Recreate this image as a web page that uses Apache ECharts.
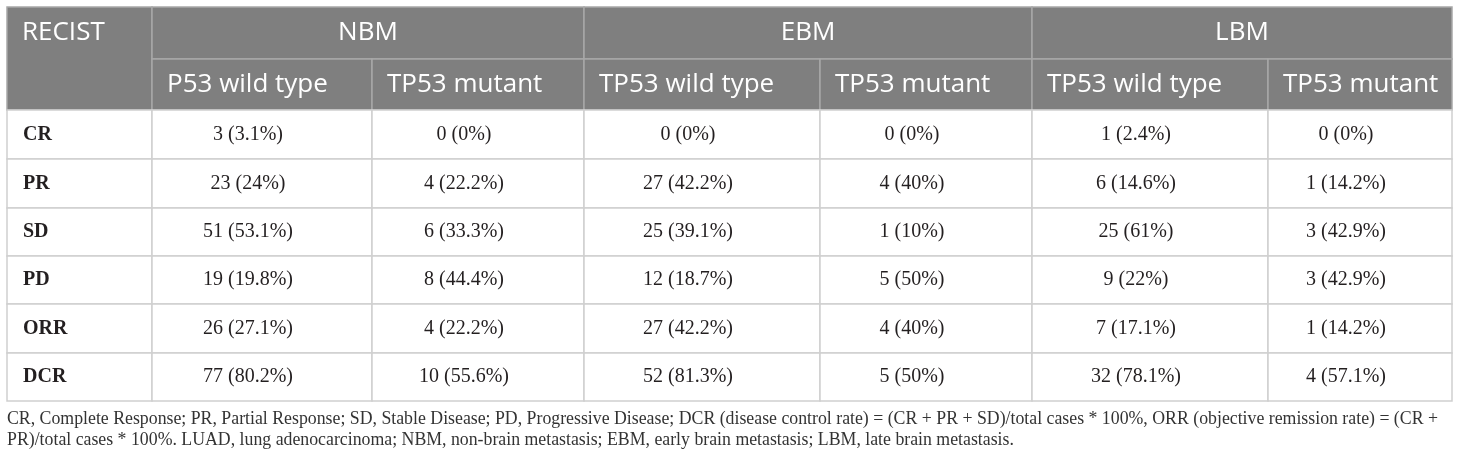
<!DOCTYPE html>
<html>
<head>
<meta charset="utf-8">
<script src="https://cdn.jsdelivr.net/npm/echarts@6/dist/echarts.min.js"></script>
<style>
  html, body { margin: 0; padding: 0; background: #fff; }
  #table { width: 1460px; height: 463px; }
</style>
</head>
<body>
<div id="table"></div>
<script>
// table content
var recist = ['CR', 'PR', 'SD', 'PD', 'ORR', 'DCR'];
var groups = ['NBM', 'EBM', 'LBM'];
var subHeaders = ['P53 wild type', 'TP53 mutant', 'TP53 wild type', 'TP53 mutant', 'TP53 wild type', 'TP53 mutant'];

var nbmWildN = [3, 23, 51, 19, 26, 77];
var nbmWildPct = [3.1, 24, 53.1, 19.8, 27.1, 80.2];
var nbmMutN = [0, 4, 6, 8, 4, 10];
var nbmMutPct = [0, 22.2, 33.3, 44.4, 22.2, 55.6];
var ebmWildN = [0, 27, 25, 12, 27, 52];
var ebmWildPct = [0, 42.2, 39.1, 18.7, 42.2, 81.3];
var ebmMutN = [0, 4, 1, 5, 4, 5];
var ebmMutPct = [0, 40, 10, 50, 40, 50];
var lbmWildN = [1, 6, 25, 9, 7, 32];
var lbmWildPct = [2.4, 14.6, 61, 22, 17.1, 78.1];
var lbmMutN = [0, 1, 3, 3, 1, 4];
var lbmMutPct = [0, 14.2, 42.9, 42.9, 14.2, 57.1];

var footnote = [
  'CR, Complete Response; PR, Partial Response; SD, Stable Disease; PD, Progressive Disease; DCR (disease control rate) = (CR + PR + SD)/total cases * 100%, ORR (objective remission rate) = (CR +',
  'PR)/total cases * 100%. LUAD, lung adenocarcinoma; NBM, non-brain metastasis; EBM, early brain metastasis; LBM, late brain metastasis.'
];

// layout (axis units = pixels inside the grid)
var colEdges = [0, 145, 365, 577, 813, 1025, 1261, 1445];
var rowEdges = [0, 52, 103, 152, 201, 249, 297, 346, 394];

var chartDom = document.getElementById('table');
var myChart = echarts.init(chartDom);

// body cells: [col, row] + text
var columns = [
  [nbmWildN, nbmWildPct], [nbmMutN, nbmMutPct],
  [ebmWildN, ebmWildPct], [ebmMutN, ebmMutPct],
  [lbmWildN, lbmWildPct], [lbmMutN, lbmMutPct]
];
var bodyData = [];
var bodyText = [];
for (var r = 0; r < recist.length; r++) {
  bodyData.push([0, r + 2]);
  bodyText.push(recist[r]);
  for (var c = 0; c < columns.length; c++) {
    bodyData.push([c + 1, r + 2]);
    bodyText.push(columns[c][0][r] + ' (' + columns[c][1][r] + '%)');
  }
}

// header cells: [colStart, colEnd, rowStart, rowEnd] + text
var headData = [[0, 1, 0, 2]];
var headText = ['RECIST'];
var headAlign = ['corner'];
for (var g = 0; g < groups.length; g++) {
  headData.push([1 + g * 2, 3 + g * 2, 0, 1]);
  headText.push(groups[g]);
  headAlign.push('center');
}
for (var s = 0; s < subHeaders.length; s++) {
  headData.push([s + 1, s + 2, 1, 2]);
  headText.push(subHeaders[s]);
  headAlign.push('left');
}

function renderBody(params, api) {
  var c = api.value(0), r = api.value(1);
  var p0 = api.coord([colEdges[c], rowEdges[r]]);
  var p1 = api.coord([colEdges[c + 1], rowEdges[r + 1]]);
  var isLabel = c === 0;
  return {
    type: 'group',
    children: [
      {
        type: 'rect',
        shape: { x: p0[0], y: p0[1], width: p1[0] - p0[0], height: p1[1] - p0[1] },
        style: { fill: '#fff', stroke: '#cfcfcf', lineWidth: 1.5 }
      },
      {
        type: 'text',
        style: {
          x: isLabel ? p0[0] + 16 : (p0[0] + p1[0]) / 2 - 14,
          y: (p0[1] + p1[1]) / 2,
          text: bodyText[params.dataIndex],
          align: isLabel ? 'left' : 'center',
          verticalAlign: 'middle',
          fontFamily: 'Liberation Serif',
          fontSize: 20,
          fontWeight: isLabel ? 'bold' : 'normal',
          fill: '#231f20'
        }
      }
    ]
  };
}

function renderHead(params, api) {
  var c0 = api.value(0), c1 = api.value(1), r0 = api.value(2), r1 = api.value(3);
  var p0 = api.coord([colEdges[c0], rowEdges[r0]]);
  var p1 = api.coord([colEdges[c1], rowEdges[r1]]);
  var mode = headAlign[params.dataIndex];
  var tx = mode === 'center' ? (p0[0] + p1[0]) / 2 : p0[0] + 15;
  var ty = mode === 'corner' ? p0[1] + 26 : (p0[1] + p1[1]) / 2;
  return {
    type: 'group',
    children: [
      {
        type: 'rect',
        shape: { x: p0[0], y: p0[1], width: p1[0] - p0[0], height: p1[1] - p0[1] },
        style: { fill: '#7f7f7f', stroke: '#a8a8a8', lineWidth: 1.5 }
      },
      {
        type: 'text',
        style: {
          x: tx,
          y: ty,
          text: headText[params.dataIndex],
          align: mode === 'center' ? 'center' : 'left',
          verticalAlign: 'middle',
          fontFamily: 'Open Sans',
          fontSize: 26,
          fill: '#fff'
        }
      }
    ]
  };
}

var option = {
  animation: false,
  grid: { left: 7, top: 7, width: 1445, height: 394 },
  xAxis: { type: 'value', min: 0, max: 1445, show: false },
  yAxis: { type: 'value', min: 0, max: 394, inverse: true, show: false },
  graphic: footnote.map(function (line, i) {
    return {
      type: 'text',
      left: 7,
      top: 410 + i * 21,
      style: {
        text: line,
        fontFamily: 'Liberation Serif',
        fontSize: 17.8,
        fill: '#333'
      }
    };
  }),
  series: [
    {
      type: 'custom',
      name: 'head',
      clip: false,
      encode: { x: [0, 1], y: [2, 3] },
      data: headData,
      renderItem: renderHead
    },
    {
      type: 'custom',
      name: 'body',
      clip: false,
      encode: { x: 0, y: 1 },
      data: bodyData,
      renderItem: renderBody
    }
  ]
};

option && myChart.setOption(option);
</script>
</body>
</html>
